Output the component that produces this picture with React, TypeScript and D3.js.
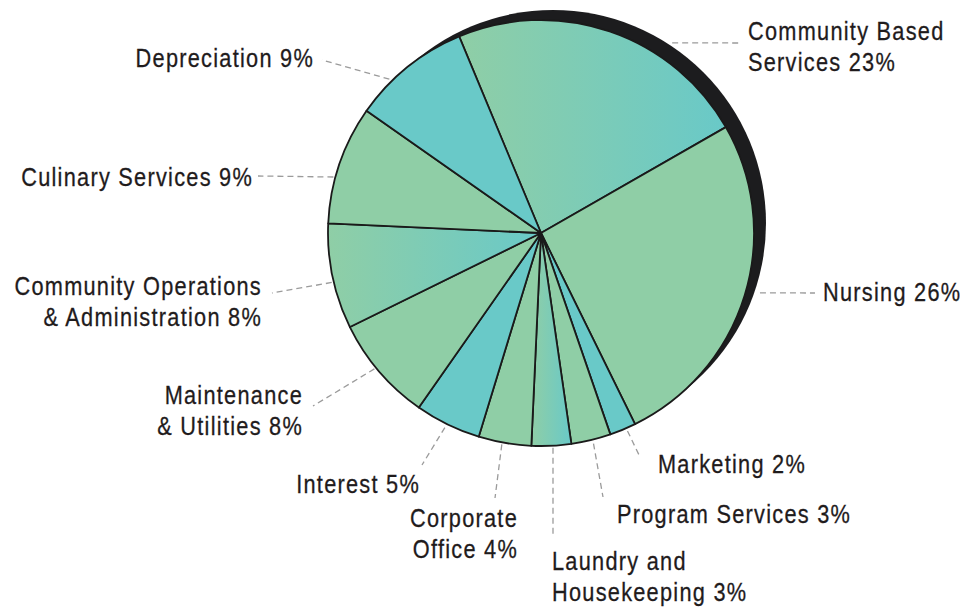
import React from "react";
import * as d3 from "d3";

const categories = [
  "Community Based Services",
  "Nursing",
  "Marketing",
  "Program Services",
  "Laundry and Housekeeping",
  "Corporate Office",
  "Interest",
  "Maintenance & Utilities",
  "Community Operations & Administration",
  "Culinary Services",
  "Depreciation",
];
const values = [23, 26, 2, 3, 3, 4, 5, 8, 8, 9, 9];
const fillKinds = ["grad", "green", "teal", "green", "grad", "green", "teal", "green", "grad", "green", "teal"];
const labelLines = [
  ["Community Based", "Services 23%"],
  ["Nursing 26%"],
  ["Marketing 2%"],
  ["Program Services 3%"],
  ["Laundry and", "Housekeeping 3%"],
  ["Corporate", "Office 4%"],
  ["Interest 5%"],
  ["Maintenance", "& Utilities 8%"],
  ["Community Operations", "& Administration 8%"],
  ["Culinary Services 9%"],
  ["Depreciation 9%"],
];

// layout of annotations (label anchor, leader start angle on circle, leader end)
const labelLayout = [
  { x: 748, y: 40, anchor: "start", ang: 34.6, rr: 231, ex: 740, ey: 43 },
  { x: 823, y: 301, anchor: "start", ang: 105.3, rr: 227, ex: 815, ey: 293 },
  { x: 658, y: 473, anchor: "start", ang: 156.4, rr: 216, ex: 640, ey: 457 },
  { x: 617, y: 523, anchor: "start", ang: 166, rr: 217, ex: 603, ey: 497 },
  { x: 552, y: 570, anchor: "start", ang: 176.8, rr: 215, ex: 553, ey: 535 },
  { x: 518, y: 527, anchor: "end", ang: 190.5, rr: 215, ex: 495, ey: 498 },
  { x: 420, y: 493, anchor: "end", ang: 206.3, rr: 217, ex: 422, ey: 465 },
  { x: 303, y: 404, anchor: "end", ang: 230.8, rr: 215, ex: 313, ey: 406 },
  { x: 262, y: 295, anchor: "end", ang: 256.7, rr: 215, ex: 272, ey: 293 },
  { x: 253, y: 186, anchor: "end", ang: 285.1, rr: 215, ex: 258, ey: 176 },
  { x: 314, y: 67, anchor: "end", ang: 315.4, rr: 216, ex: 322, ey: 60 },
];

const W = 963;
const H = 607;
const CX = 541;
const CY = 233;
const R = 213;
const GREEN = "#8fcea6";
const TEAL = "#69c9c8";
const FONT = "'Liberation Sans', Arial, Helvetica, sans-serif";
const SX = 0.82;

export default function App() {
  const rad = (d: number) => (d * Math.PI) / 180;
  const start = rad(-22.6);
  const pie = d3
    .pie<number>()
    .sort(null)
    .value((d) => d)
    .startAngle(start)
    .endAngle(start + 2 * Math.PI);
  const arcs = pie(values);
  const arcGen = d3.arc<d3.PieArcDatum<number>>().innerRadius(0).outerRadius(R);

  return (
    <svg
      width={W}
      height={H}
      viewBox={`0 0 ${W} ${H}`}
      style={{ position: "absolute", left: 0, top: 0, background: "#fff" }}
    >
      <defs>
        <linearGradient id="gsl" x1="0" x2="1" y1="0" y2="0">
          <stop offset="0" stopColor={GREEN} />
          <stop offset="1" stopColor={TEAL} />
        </linearGradient>
      </defs>
      <circle cx={CX + 12} cy={CY - 10} r={R} fill="#1c1c1e" />
      <g transform={`translate(${CX},${CY})`}>
        {arcs.map((a, i) => (
          <path
            key={categories[i]}
            d={arcGen(a) || ""}
            fill={fillKinds[i] === "grad" ? "url(#gsl)" : fillKinds[i] === "green" ? GREEN : TEAL}
            stroke="#1a1a1a"
            strokeWidth={1.8}
            strokeLinejoin="round"
          />
        ))}
      </g>
      {labelLayout.map((l, i) => {
        const [px, py] = d3.pointRadial(rad(l.ang), l.rr);
        return (
          <line
            key={"l" + i}
            x1={CX + px}
            y1={CY + py}
            x2={l.ex}
            y2={l.ey}
            stroke="#9b9b9b"
            strokeWidth={1.3}
            strokeDasharray="6 4"
          />
        );
      })}
      {labelLayout.map((l, i) => (
        <g key={"t" + i} transform={`translate(${l.x},${l.y}) scale(${SX},1)`}>
          <text
            x={0}
            y={0}
            textAnchor={l.anchor as any}
            fontFamily={FONT}
            fontSize={26.5}
            letterSpacing={1.55}
            fill="#1f1b1c"
            stroke="#1f1b1c"
            strokeWidth={0.3}
          >
            {labelLines[i].map((s, j) => (
              <tspan key={j} x={0} y={j * 31}>
                {s}
              </tspan>
            ))}
          </text>
        </g>
      ))}
    </svg>
  );
}
